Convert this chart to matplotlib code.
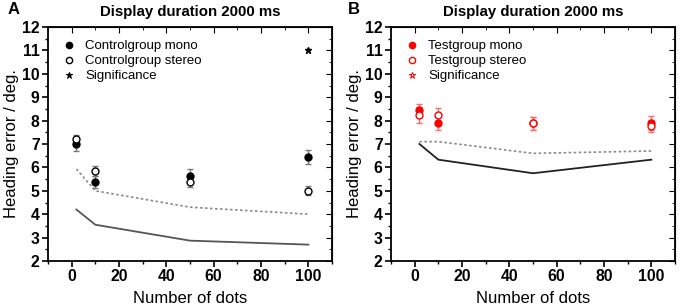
import matplotlib.pyplot as plt
from matplotlib.lines import Line2D
import numpy as np

plt.rcParams['font.family'] = ['Liberation Sans', 'DejaVu Sans']

dots = [2, 10, 50, 100]

# panel A - control group
ctrl_mono = [7.0, 5.38, 5.65, 6.43]
ctrl_mono_err = [0.28, 0.25, 0.3, 0.3]
ctrl_stereo = [7.2, 5.85, 5.38, 5.0]
ctrl_stereo_err = [0.2, 0.2, 0.2, 0.2]
ctrl_sig_x = [100]
ctrl_sig_y = [11]
ctrl_dotted = [5.93, 5.0, 4.3, 4.0]
ctrl_solid = [4.2, 3.55, 2.87, 2.7]

# panel B - test group
test_mono = [8.45, 7.88, 7.88, 7.88]
test_mono_err = [0.28, 0.3, 0.28, 0.3]
test_stereo = [8.25, 8.25, 7.88, 7.78]
test_stereo_err = [0.35, 0.3, 0.28, 0.25]
test_dotted = [7.1, 7.1, 6.6, 6.7]
test_solid = [7.0, 6.33, 5.75, 6.33]

fig = plt.figure(figsize=(6.8, 3.06), dpi=100)
axA = fig.add_axes([48/680, 1-261/306, 284/680, 234/306])
axB = fig.add_axes([391/680, 1-261/306, 284/680, 234/306])


def style(ax):
    ax.set_xlim(-10, 110)
    ax.set_ylim(2, 12)
    ax.set_xticks([0, 20, 40, 60, 80, 100])
    ax.set_xticks(np.arange(-10, 111, 10), minor=True)
    ax.set_yticks(np.arange(2, 13, 1))
    ax.set_yticks(np.arange(2, 12.01, 0.5), minor=True)
    ax.tick_params(which='major', direction='out', length=4, width=1.2,
                   labelsize=11.3, pad=2)
    ax.tick_params(which='minor', direction='out', length=2, width=1)
    for lab in ax.get_xticklabels() + ax.get_yticklabels():
        lab.set_fontweight('bold')
    for s in ax.spines.values():
        s.set_linewidth(1.3)
    sec = ax.secondary_xaxis('top')
    sec.set_xticks([0, 20, 40, 60, 80, 100])
    sec.set_xticks(np.arange(-10, 111, 10), minor=True)
    sec.tick_params(which='major', direction='in', length=4, labeltop=False)
    sec.tick_params(which='minor', direction='in', length=2)
    sec2 = ax.secondary_yaxis('right')
    sec2.set_yticks(np.arange(2, 13, 1))
    sec2.set_yticks(np.arange(2, 12.01, 0.5), minor=True)
    sec2.tick_params(which='major', direction='in', length=4, labelright=False)
    sec2.tick_params(which='minor', direction='in', length=2)
    ax.set_xlabel('Number of dots', fontsize=12, labelpad=5)
    ax.set_ylabel('Heading error / deg.', fontsize=12, labelpad=2)
    ax.set_title('Display duration 2000 ms', fontsize=10.8, fontweight='bold', pad=8)


def add_legend(ax, color, labels, star_face):
    handles = [
        Line2D([], [], ls='none', marker='o', color=color, ms=4.5),
        Line2D([], [], ls='none', marker='o', color=color, mfc='white', ms=4.5, mew=1),
        Line2D([], [], ls='none', marker='*', color=color, mfc=star_face, ms=5, mew=0.7),
    ]
    ax.legend(handles, labels, loc='upper left', frameon=False, fontsize=9.5,
              handletextpad=0.6, labelspacing=0.2, borderaxespad=0.6,
              handlelength=1.2)


# Panel A
axA.plot(dots, ctrl_dotted, color='#888888', lw=1.2, ls=(0, (1.5, 1.5)))
axA.plot(dots, ctrl_solid, color='#555555', lw=1.3)
axA.errorbar(dots, ctrl_mono, yerr=ctrl_mono_err, fmt='o', color='black',
             ms=5, ecolor='#777777', elinewidth=1, capsize=2)
axA.errorbar(dots, ctrl_stereo, yerr=ctrl_stereo_err, fmt='o', color='black',
             mfc='white', ms=5, mew=1, ecolor='#777777', elinewidth=1,
             capsize=2)
axA.plot(ctrl_sig_x, ctrl_sig_y, '*', color='black', ms=5)
style(axA)
add_legend(axA, 'black', ['Controlgroup mono', 'Controlgroup stereo', 'Significance'], 'black')

# Panel B
axB.plot(dots, test_dotted, color='#888888', lw=1.2, ls=(0, (1.5, 1.5)))
axB.plot(dots, test_solid, color='#222222', lw=1.3)
axB.errorbar(dots, test_mono, yerr=test_mono_err, fmt='o', color='red',
             ms=5, ecolor='#f07070', elinewidth=1, capsize=2)
axB.errorbar(dots, test_stereo, yerr=test_stereo_err, fmt='o', color='red',
             mfc='white', ms=5, mew=1, ecolor='#f07070', elinewidth=1,
             capsize=2)
style(axB)
add_legend(axB, 'red', ['Testgroup mono', 'Testgroup stereo', 'Significance'], 'white')

fig.text(8/680, 1-10/306, 'A', fontsize=12, fontweight='bold', va='center')
fig.text(348/680, 1-10/306, 'B', fontsize=12, fontweight='bold', va='center')

fig.savefig('out.png', dpi=100)
